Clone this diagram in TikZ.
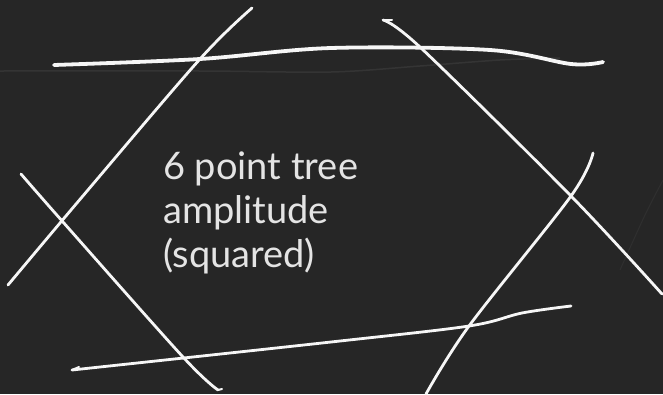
\documentclass[tikz,border=0pt]{standalone}
\usepackage{fontspec}
\setmainfont{Lato}
\definecolor{board}{HTML}{262626}
\definecolor{chalk}{HTML}{F6F6F6}
\definecolor{chalktext}{HTML}{E4E4E4}
\definecolor{smudge}{HTML}{383838}
\tikzset{
  chalkline/.style={draw=chalk, line width=2.8pt, line cap=round, line join=round},
  chalkthick/.style={chalkline, line width=3.8pt},
  label/.style={anchor=base west, inner sep=0pt, text=chalktext, font=\fontsize{38}{44}\selectfont}
}
\begin{document}
\begin{tikzpicture}[x=1pt,y=-1pt]
\fill[board] (0,0) rectangle (663,394);
\useasboundingbox (0,0) rectangle (663,394);
% faint board smudges
\draw[smudge, line width=1.5pt, opacity=0.8] plot[smooth] coordinates {(0,71) (200,71) (331,72) (420,66) (500,60) (560,58)};
\draw[smudge, line width=1pt, opacity=0.5] plot[smooth] coordinates {(620,270) (645,215) (663,180)};
% top line
\draw[chalkthick] plot[smooth, tension=0.55] coordinates {(54,65) (200,59) (331,48) (490,50) (571,64) (603,62)};
% bottom line
\draw[chalkline] plot[smooth, tension=0.55] coordinates {(72,370) (331,342) (469,326) (522,313) (571,306)};
\draw[chalkline, line width=2pt] (72,370) -- (79,367);
% upper-left diagonal
\draw[chalkline] plot[smooth, tension=0.55] coordinates {(252,8) (200,59) (82,197) (8,285)};
% lower-left diagonal
\draw[chalkline] plot[smooth, tension=0.55] coordinates {(21,174) (63,222) (183,357) (218,390)};
\draw[chalkline, line width=2pt] (218,390) -- (222,389);
% upper-right diagonal
\draw[chalkline] plot[smooth, tension=0.55] coordinates {(383,20) (421,48) (571,196) (662,294)};
\draw[chalkline, line width=2pt] (383,20) -- (392,20);
% lower-right diagonal
\draw[chalkline] plot[smooth, tension=0.55] coordinates {(593,153) (571,196) (469,326) (426,394)};
% text
\node[label] (t1) at (163,179) {6 point tree};
\node[label] (t2) at (163,223) {amplitude};
\node[label] (t3) at (163,267) {(squared)};
\end{tikzpicture}
\end{document}
